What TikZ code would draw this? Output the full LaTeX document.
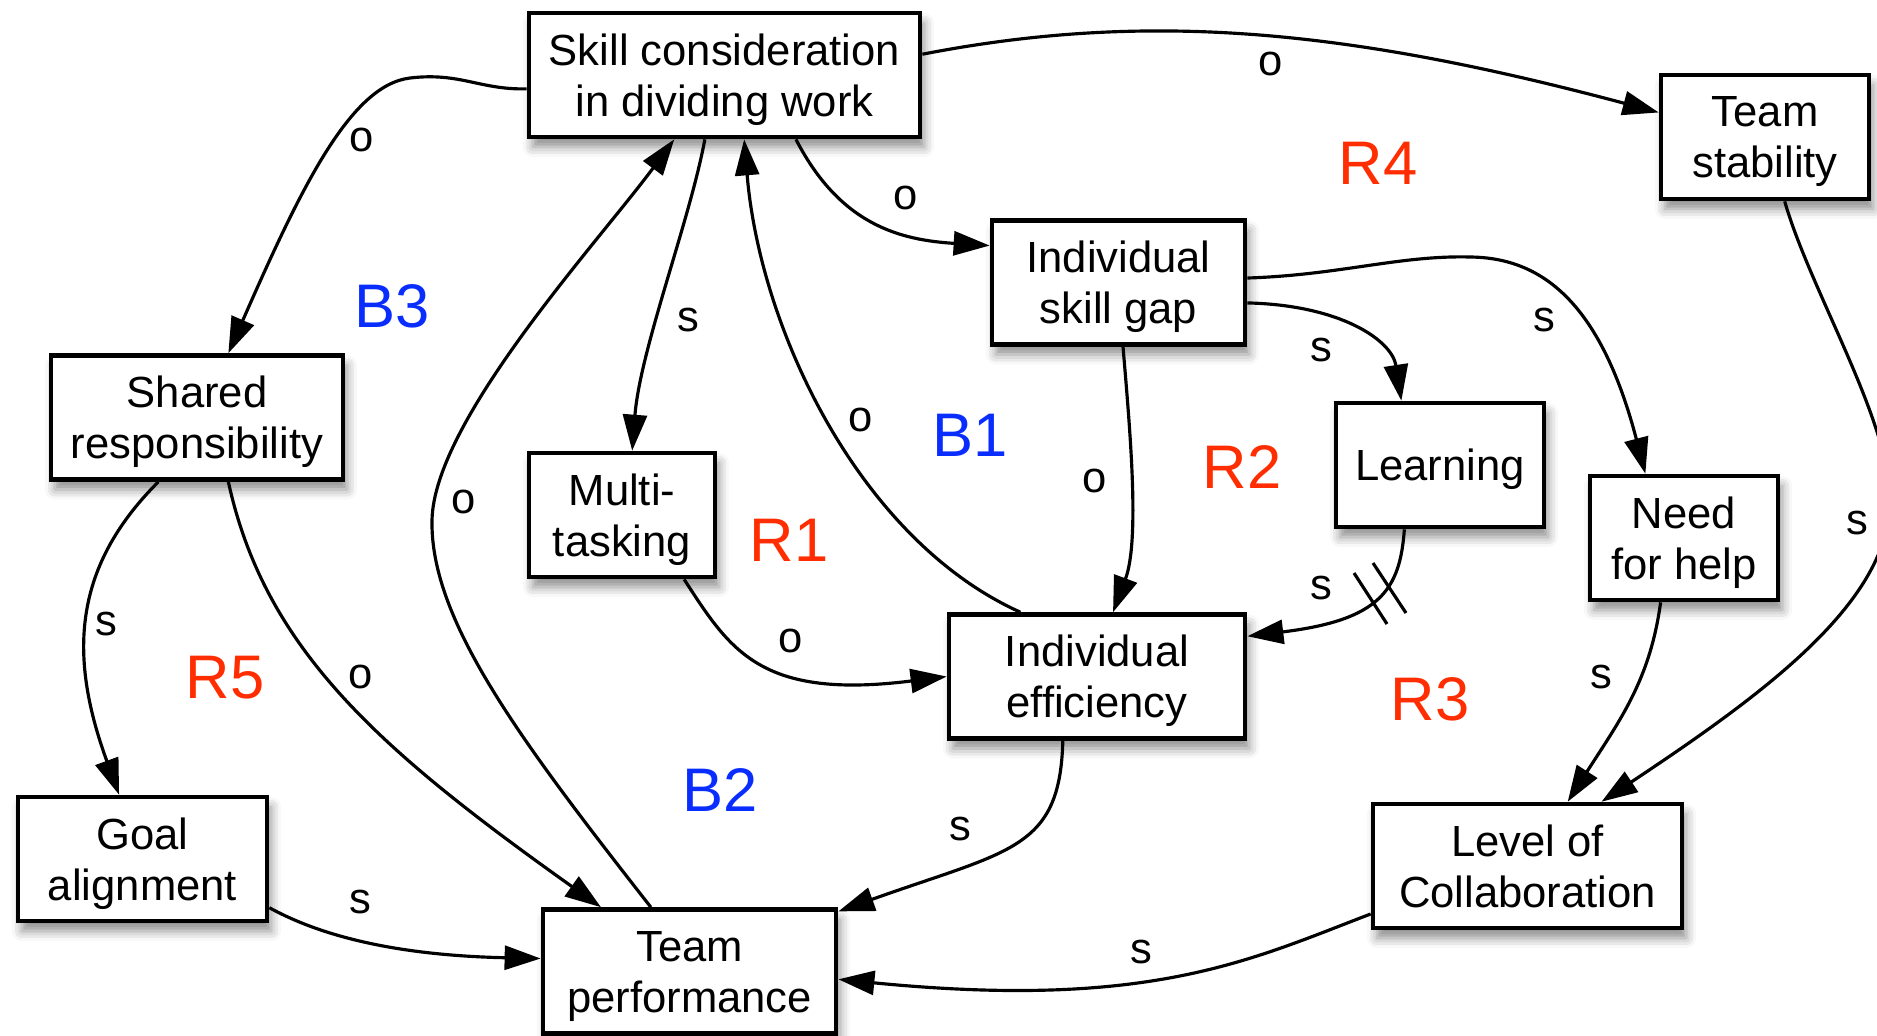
\documentclass[tikz,border=0pt]{standalone}
\usepackage{fontspec}
\setmainfont{Liberation Sans}
\usetikzlibrary{arrows.meta,shadows.blur}
\definecolor{loopred}{HTML}{FF2D00}
\definecolor{loopblue}{HTML}{0A2DFF}
\tikzset{
  var/.style={draw, line width=1.3pt, fill=white, align=center, inner sep=0pt,
    minimum height=1.24cm, font=\fontsize{12.4}{14.5}\selectfont, text depth=0pt,
    blur shadow={shadow xshift=0.4mm, shadow yshift=-1mm, shadow blur radius=1mm, shadow opacity=45}},
  link/.style={line width=0.9pt, -{Triangle[length=3.6mm,width=2.4mm]}},
  sign/.style={font=\fontsize{12.4}{14.5}\selectfont},
  rloop/.style={text=loopred, font=\fontsize{17.5}{20}\selectfont},
  bloop/.style={text=loopblue, font=\fontsize{17.5}{20}\selectfont}
}

\begin{document}
\begin{tikzpicture}[x=0.01cm, y=-0.01cm]
	\useasboundingbox (0,0) rectangle (1877,1035);
	\node[var, minimum width=3.91cm] (skill) at (724.5,75) {Skill consideration\\in dividing work};
	\node[var, minimum width=2.08cm] (stab) at (1765,137) {Team\\stability};
	\node[var, minimum width=2.53cm] (gap) at (1118.5,282.5) {Individual\\skill gap};
	\node[var, minimum width=2.92cm] (shared) at (197,417.5) {Shared\\responsibility};
	\node[var, minimum width=1.86cm] (multi) at (622,515) {Multi-\\tasking};
	\node[var, minimum width=2.08cm] (learn) at (1440,465) {Learning};
	\node[var, minimum width=1.88cm] (need) at (1684,538) {Need\\for help};
	\node[var, minimum width=2.96cm] (eff) at (1097,676.5) {Individual\\efficiency};
	\node[var, minimum width=2.49cm] (goal) at (142.5,859) {Goal\\alignment};
	\node[var, minimum width=3.09cm] (level) at (1527.5,866) {Level of\\Collaboration};
	\node[var, minimum width=2.93cm] (perf) at (689.5,971.5) {Team\\performance};

	\draw[link] (skill.184) .. controls (480,90) and (460,72) .. (410,78) .. controls (350,85) and (300,190) .. (shared.64);
	\draw[link] (skill.6) .. controls (1150,10) and (1350,30) .. (stab.167);
	\draw[link] (skill.318) .. controls (840,225) and (900,240) .. (gap.164);
	\draw[link] (skill.253) .. controls (690,220) and (640,350) .. (multi.81);
	\draw[link] (eff.140) .. controls (860,540) and (760,330) .. (skill.287);
	\draw[link] (perf.121) .. controls (520,740) and (430,620) .. (432,520) .. controls (434,420) and (600,240) .. (skill.232);
	\draw[link] (shared.239) .. controls (70,570) and (70,660) .. (goal.110);
	\draw[link] (shared.296) .. controls (265,650) and (380,750) .. (perf.144);
	\draw[link] (goal.339) .. controls (310,930) and (380,955) .. (perf.175);
	\draw[link] (multi.314) .. controls (730,650) and (760,700) .. (eff.west);
	\draw[link] (gap.274) .. controls (1130,430) and (1140,540) .. (eff.76);
	\draw[link] (gap.351) .. controls (1340,305) and (1392,340) .. (learn.121);
	\draw[link] (gap.2) .. controls (1340,275) and (1400,255) .. (1471,257) .. controls (1540,258) and (1600,300) .. (need.121);
	\draw[link] (learn.241) .. controls (1400,590) and (1380,620) .. (eff.15);
	\draw[link] (eff.242) .. controls (1060,850) and (1010,850) .. (perf.22);
	\draw[link] (level.197) .. controls (1250,960) and (1150,1010) .. (perf.357);
	\draw[link] (need.250) .. controls (1650,680) and (1620,720) .. (level.58);
	\draw[link] (stab.287) .. controls (1810,290) and (1890,420) .. (1890,500) .. controls (1890,600) and (1770,690) .. (level.41);
	\draw[line width=0.9pt] (1354,573) -- (1387,624) (1373,563) -- (1406,613);

	\node[sign] (s1) at (362,140) {o};
	\node[sign] (s2) at (1271,64) {o};
	\node[sign] (s3) at (906,198) {o};
	\node[sign] (s4) at (688,320) {s};
	\node[sign] (s5) at (861,420) {o};
	\node[sign] (s6) at (1095,481) {o};
	\node[sign] (s7) at (1321,350) {s};
	\node[sign] (s8) at (1544,320) {s};
	\node[sign] (s9) at (1321,588) {s};
	\node[sign] (s10) at (464,502) {o};
	\node[sign] (s11) at (106,624) {s};
	\node[sign] (s12) at (361,677) {o};
	\node[sign] (s13) at (791,641) {o};
	\node[sign] (s14) at (360,902) {s};
	\node[sign] (s15) at (960,829) {s};
	\node[sign] (s16) at (1141,952) {s};
	\node[sign] (s17) at (1601,677) {s};
	\node[sign] (s18) at (1857,523) {s};

	\node[bloop] (b3) at (392,306) {B3};
	\node[rloop] (r4) at (1378,163) {R4};
	\node[bloop] (b1) at (970,435) {B1};
	\node[rloop] (r2) at (1242,467) {R2};
	\node[rloop] (r1) at (789,540) {R1};
	\node[rloop] (r3) at (1430,699) {R3};
	\node[rloop] (r5) at (225,678) {R5};
	\node[bloop] (b2) at (720,790) {B2};
\end{tikzpicture}
\end{document}
